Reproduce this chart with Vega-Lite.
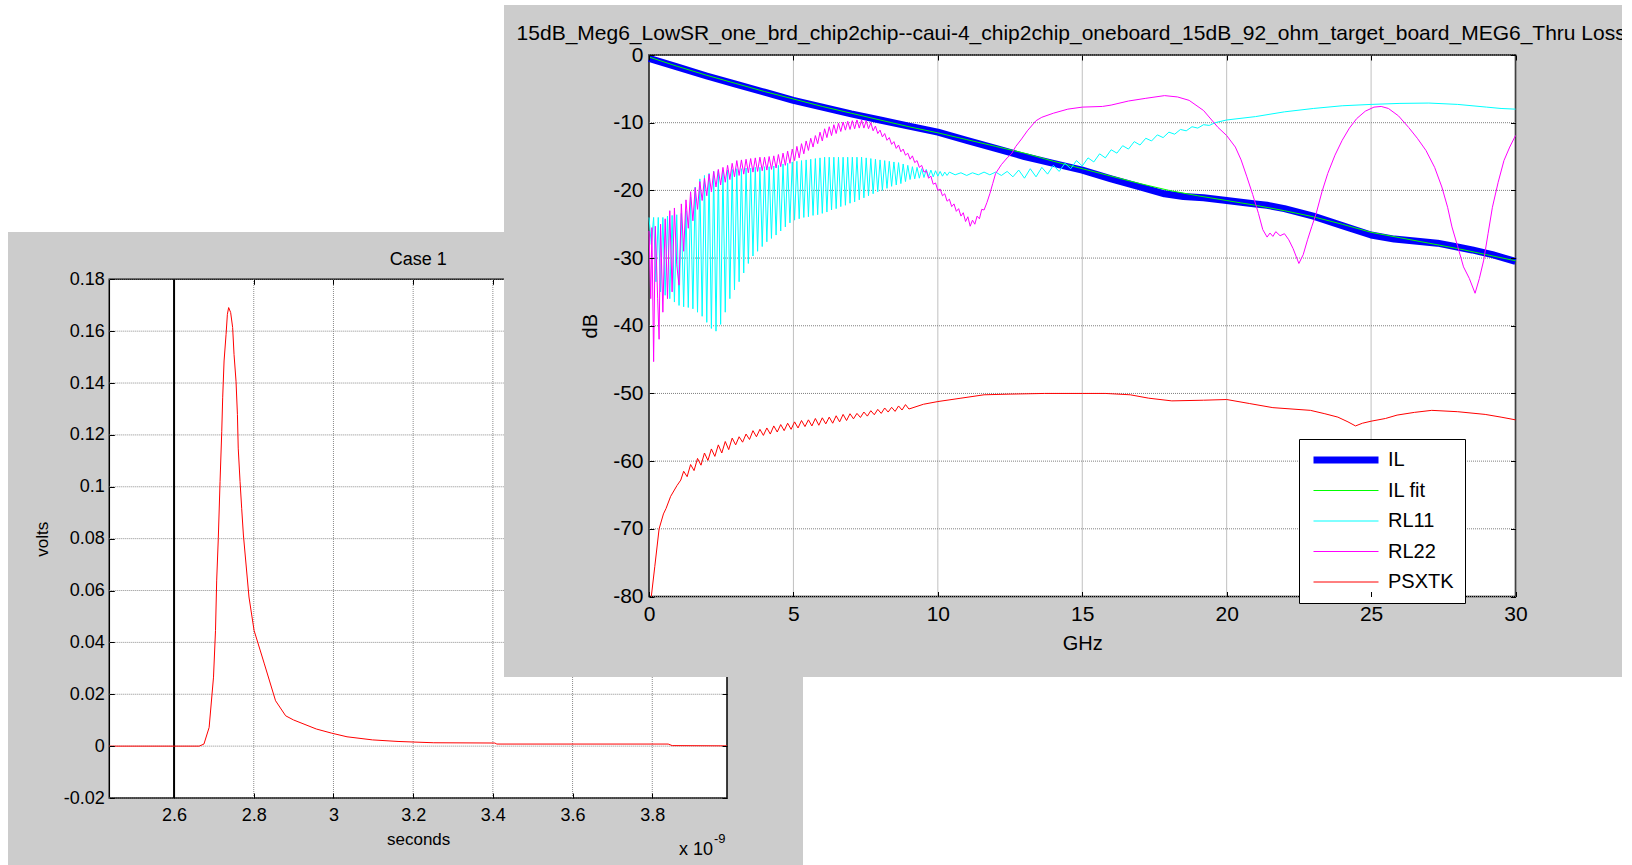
{
  "$schema": "https://vega.github.io/schema/vega-lite/v6.json",
  "width": 1622,
  "height": 865,
  "autosize": {"type": "none"},
  "padding": 0,
  "background": "white",
  "config": {
    "view": {"stroke": null},
    "axis": {"labelFont": "Liberation Sans", "titleFont": "Liberation Sans", "labelColor": "black", "titleColor": "black", "titleFontWeight": "normal", "ticks": true, "tickColor": "black", "tickWidth": 1, "domain": false, "grid": false, "labelFlush": false, "labelOverlap": false},
    "text": {"font": "Liberation Sans", "color": "black"}
  },
  "resolve": {"scale": {"x": "independent", "y": "independent", "color": "independent", "strokeWidth": "independent"}},
  "datasets": {
    "pulse": [
      {"t": 2.4375, "v": 0}, {"t": 2.6, "v": 0}, {"t": 2.663, "v": 0}, {"t": 2.675, "v": 0.0008}, {"t": 2.688, "v": 0.0072},
      {"t": 2.699, "v": 0.0266}, {"t": 2.704, "v": 0.0446}, {"t": 2.707, "v": 0.064}, {"t": 2.711, "v": 0.08},
      {"t": 2.7154, "v": 0.102}, {"t": 2.7197, "v": 0.1214}, {"t": 2.722, "v": 0.1343}, {"t": 2.7255, "v": 0.1485},
      {"t": 2.7305, "v": 0.1588}, {"t": 2.7338, "v": 0.1665}, {"t": 2.737, "v": 0.1691}, {"t": 2.742, "v": 0.1672},
      {"t": 2.747, "v": 0.1614}, {"t": 2.7505, "v": 0.151}, {"t": 2.7555, "v": 0.1407}, {"t": 2.759, "v": 0.1278},
      {"t": 2.761, "v": 0.1149}, {"t": 2.7656, "v": 0.102}, {"t": 2.7697, "v": 0.0917}, {"t": 2.774, "v": 0.0814},
      {"t": 2.788, "v": 0.0575}, {"t": 2.8008, "v": 0.0446}, {"t": 2.8266, "v": 0.0317}, {"t": 2.8547, "v": 0.0175},
      {"t": 2.88, "v": 0.0117}, {"t": 2.8996, "v": 0.0101}, {"t": 2.957, "v": 0.0066}, {"t": 2.9955, "v": 0.005},
      {"t": 3.034, "v": 0.0036}, {"t": 3.098, "v": 0.0024}, {"t": 3.162, "v": 0.0018}, {"t": 3.2517, "v": 0.0013},
      {"t": 3.405, "v": 0.0012}, {"t": 3.41, "v": 0.0008}, {"t": 3.84, "v": 0.0008}, {"t": 3.85, "v": 0.0002}, {"t": 3.9875, "v": 0.0001}
    ],
    "lgx": [{"t": 2.6}, {"t": 2.8}, {"t": 3}, {"t": 3.2}, {"t": 3.4}, {"t": 3.6}, {"t": 3.8}],
    "lgy": [{"v": -0.02}, {"v": 0}, {"v": 0.02}, {"v": 0.04}, {"v": 0.06}, {"v": 0.08}, {"v": 0.1}, {"v": 0.12}, {"v": 0.14}, {"v": 0.16}, {"v": 0.18}],
    "rgx": [{"f": 0}, {"f": 5}, {"f": 10}, {"f": 15}, {"f": 20}, {"f": 25}, {"f": 30}],
    "rgy": [{"db": 0}, {"db": -10}, {"db": -20}, {"db": -30}, {"db": -40}, {"db": -50}, {"db": -60}, {"db": -70}, {"db": -80}],
    "rf": [
      {"s": "IL", "f": 0, "db": -0.5}, {"s": "IL", "f": 1, "db": -1.8}, {"s": "IL", "f": 2, "db": -3.1}, {"s": "IL", "f": 3, "db": -4.3},
      {"s": "IL", "f": 4, "db": -5.5}, {"s": "IL", "f": 5, "db": -6.7}, {"s": "IL", "f": 6, "db": -7.7}, {"s": "IL", "f": 7, "db": -8.7},
      {"s": "IL", "f": 8, "db": -9.6}, {"s": "IL", "f": 9, "db": -10.5}, {"s": "IL", "f": 10, "db": -11.4}, {"s": "IL", "f": 11, "db": -12.6},
      {"s": "IL", "f": 12, "db": -13.8}, {"s": "IL", "f": 13, "db": -15.0}, {"s": "IL", "f": 13.6, "db": -15.6}, {"s": "IL", "f": 14, "db": -16.0},
      {"s": "IL", "f": 15, "db": -17.0}, {"s": "IL", "f": 16, "db": -18.3}, {"s": "IL", "f": 17, "db": -19.5}, {"s": "IL", "f": 17.85, "db": -20.5},
      {"s": "IL", "f": 18.5, "db": -20.9}, {"s": "IL", "f": 19.2, "db": -21.1}, {"s": "IL", "f": 20, "db": -21.5}, {"s": "IL", "f": 21, "db": -22.0},
      {"s": "IL", "f": 21.4, "db": -22.2}, {"s": "IL", "f": 22, "db": -22.7}, {"s": "IL", "f": 23, "db": -23.8}, {"s": "IL", "f": 24, "db": -25.2},
      {"s": "IL", "f": 25, "db": -26.6}, {"s": "IL", "f": 25.8, "db": -27.2}, {"s": "IL", "f": 26.6, "db": -27.5}, {"s": "IL", "f": 27.3, "db": -27.8},
      {"s": "IL", "f": 27.9, "db": -28.3}, {"s": "IL", "f": 28.5, "db": -28.8}, {"s": "IL", "f": 29.2, "db": -29.5}, {"s": "IL", "f": 30, "db": -30.5},

      {"s": "IL fit", "f": 0, "db": -0.3}, {"s": "IL fit", "f": 1, "db": -1.7}, {"s": "IL fit", "f": 2, "db": -3.0}, {"s": "IL fit", "f": 3, "db": -4.2},
      {"s": "IL fit", "f": 4, "db": -5.4}, {"s": "IL fit", "f": 5, "db": -6.5}, {"s": "IL fit", "f": 6, "db": -7.6}, {"s": "IL fit", "f": 7, "db": -8.6},
      {"s": "IL fit", "f": 8, "db": -9.6}, {"s": "IL fit", "f": 9, "db": -10.6}, {"s": "IL fit", "f": 10, "db": -11.5}, {"s": "IL fit", "f": 11, "db": -12.5},
      {"s": "IL fit", "f": 12, "db": -13.5}, {"s": "IL fit", "f": 13, "db": -14.5}, {"s": "IL fit", "f": 14, "db": -15.7}, {"s": "IL fit", "f": 15, "db": -16.8},
      {"s": "IL fit", "f": 16, "db": -17.9}, {"s": "IL fit", "f": 17, "db": -19.0}, {"s": "IL fit", "f": 18, "db": -20.0}, {"s": "IL fit", "f": 19, "db": -20.8},
      {"s": "IL fit", "f": 20, "db": -21.5}, {"s": "IL fit", "f": 21, "db": -22.2}, {"s": "IL fit", "f": 22, "db": -23.0}, {"s": "IL fit", "f": 23, "db": -23.9},
      {"s": "IL fit", "f": 24, "db": -25.0}, {"s": "IL fit", "f": 25, "db": -26.2}, {"s": "IL fit", "f": 26, "db": -27.0}, {"s": "IL fit", "f": 27, "db": -27.8},
      {"s": "IL fit", "f": 28, "db": -28.6}, {"s": "IL fit", "f": 29, "db": -29.5}, {"s": "IL fit", "f": 30, "db": -30.4},

      {"s": "RL11", "f": 0, "db": -24}, {"s": "RL11", "f": 0.08, "db": -28}, {"s": "RL11", "f": 0.16, "db": -24}, {"s": "RL11", "f": 0.24, "db": -33.5},
      {"s": "RL11", "f": 0.32, "db": -24}, {"s": "RL11", "f": 0.4, "db": -35}, {"s": "RL11", "f": 0.48, "db": -24}, {"s": "RL11", "f": 0.56, "db": -35.5},
      {"s": "RL11", "f": 0.64, "db": -23.8}, {"s": "RL11", "f": 0.72, "db": -36}, {"s": "RL11", "f": 0.8, "db": -23.7}, {"s": "RL11", "f": 0.88, "db": -36.5},
      {"s": "RL11", "f": 0.96, "db": -23.6}, {"s": "RL11", "f": 1.04, "db": -37}, {"s": "RL11", "f": 1.12, "db": -23.4}, {"s": "RL11", "f": 1.2, "db": -37.2},
      {"s": "RL11", "f": 1.28, "db": -23}, {"s": "RL11", "f": 1.36, "db": -37.3}, {"s": "RL11", "f": 1.44, "db": -21}, {"s": "RL11", "f": 1.52, "db": -37.5},
      {"s": "RL11", "f": 1.6, "db": -19.5}, {"s": "RL11", "f": 1.68, "db": -38}, {"s": "RL11", "f": 1.76, "db": -18.3}, {"s": "RL11", "f": 1.84, "db": -38.6},
      {"s": "RL11", "f": 1.92, "db": -17.8}, {"s": "RL11", "f": 2.0, "db": -39.5}, {"s": "RL11", "f": 2.08, "db": -17.5}, {"s": "RL11", "f": 2.16, "db": -40.4},
      {"s": "RL11", "f": 2.24, "db": -17.2}, {"s": "RL11", "f": 2.32, "db": -40.8}, {"s": "RL11", "f": 2.4, "db": -17.1}, {"s": "RL11", "f": 2.48, "db": -39.8},
      {"s": "RL11", "f": 2.56, "db": -17.0}, {"s": "RL11", "f": 2.64, "db": -38}, {"s": "RL11", "f": 2.72, "db": -17.0}, {"s": "RL11", "f": 2.8, "db": -36},
      {"s": "RL11", "f": 2.88, "db": -16.9}, {"s": "RL11", "f": 2.96, "db": -34.7}, {"s": "RL11", "f": 3.04, "db": -16.8}, {"s": "RL11", "f": 3.12, "db": -33.5},
      {"s": "RL11", "f": 3.2, "db": -16.8}, {"s": "RL11", "f": 3.28, "db": -32.2}, {"s": "RL11", "f": 3.36, "db": -16.7}, {"s": "RL11", "f": 3.44, "db": -30.8},
      {"s": "RL11", "f": 3.52, "db": -16.7}, {"s": "RL11", "f": 3.6, "db": -29.7}, {"s": "RL11", "f": 3.68, "db": -16.6}, {"s": "RL11", "f": 3.76, "db": -29},
      {"s": "RL11", "f": 3.84, "db": -16.6}, {"s": "RL11", "f": 3.92, "db": -28.3}, {"s": "RL11", "f": 4.0, "db": -16.5}, {"s": "RL11", "f": 4.08, "db": -27.6},
      {"s": "RL11", "f": 4.16, "db": -16.5}, {"s": "RL11", "f": 4.24, "db": -27.1}, {"s": "RL11", "f": 4.32, "db": -16.4}, {"s": "RL11", "f": 4.4, "db": -26.6},
      {"s": "RL11", "f": 4.48, "db": -16.3}, {"s": "RL11", "f": 4.56, "db": -26}, {"s": "RL11", "f": 4.64, "db": -16.1}, {"s": "RL11", "f": 4.72, "db": -25.4},
      {"s": "RL11", "f": 4.8, "db": -16.0}, {"s": "RL11", "f": 4.88, "db": -24.8}, {"s": "RL11", "f": 4.96, "db": -15.8}, {"s": "RL11", "f": 5.04, "db": -24.4},
      {"s": "RL11", "f": 5.12, "db": -15.7}, {"s": "RL11", "f": 5.2, "db": -24.2}, {"s": "RL11", "f": 5.28, "db": -15.6}, {"s": "RL11", "f": 5.36, "db": -24},
      {"s": "RL11", "f": 5.44, "db": -15.5}, {"s": "RL11", "f": 5.52, "db": -23.9}, {"s": "RL11", "f": 5.6, "db": -15.4}, {"s": "RL11", "f": 5.68, "db": -23.7},
      {"s": "RL11", "f": 5.76, "db": -15.3}, {"s": "RL11", "f": 5.84, "db": -23.6}, {"s": "RL11", "f": 5.92, "db": -15.2}, {"s": "RL11", "f": 6.0, "db": -23.4},
      {"s": "RL11", "f": 6.08, "db": -15.1}, {"s": "RL11", "f": 6.16, "db": -23.2}, {"s": "RL11", "f": 6.24, "db": -15.1}, {"s": "RL11", "f": 6.32, "db": -22.9},
      {"s": "RL11", "f": 6.4, "db": -15.1}, {"s": "RL11", "f": 6.48, "db": -22.7}, {"s": "RL11", "f": 6.56, "db": -15.1}, {"s": "RL11", "f": 6.64, "db": -22.4},
      {"s": "RL11", "f": 6.72, "db": -15.1}, {"s": "RL11", "f": 6.8, "db": -22.2}, {"s": "RL11", "f": 6.88, "db": -15.1}, {"s": "RL11", "f": 6.96, "db": -21.9},
      {"s": "RL11", "f": 7.04, "db": -15.1}, {"s": "RL11", "f": 7.12, "db": -21.7}, {"s": "RL11", "f": 7.2, "db": -15.1}, {"s": "RL11", "f": 7.28, "db": -21.4},
      {"s": "RL11", "f": 7.36, "db": -15.1}, {"s": "RL11", "f": 7.44, "db": -21.1}, {"s": "RL11", "f": 7.52, "db": -15.2}, {"s": "RL11", "f": 7.6, "db": -20.8},
      {"s": "RL11", "f": 7.68, "db": -15.3}, {"s": "RL11", "f": 7.76, "db": -20.5}, {"s": "RL11", "f": 7.84, "db": -15.4}, {"s": "RL11", "f": 7.92, "db": -20.2},
      {"s": "RL11", "f": 8.0, "db": -15.5}, {"s": "RL11", "f": 8.08, "db": -20}, {"s": "RL11", "f": 8.16, "db": -15.6}, {"s": "RL11", "f": 8.24, "db": -19.7},
      {"s": "RL11", "f": 8.32, "db": -15.7}, {"s": "RL11", "f": 8.4, "db": -19.4}, {"s": "RL11", "f": 8.48, "db": -15.8}, {"s": "RL11", "f": 8.56, "db": -19.2},
      {"s": "RL11", "f": 8.64, "db": -15.9}, {"s": "RL11", "f": 8.72, "db": -19}, {"s": "RL11", "f": 8.8, "db": -16.1}, {"s": "RL11", "f": 8.88, "db": -18.7},
      {"s": "RL11", "f": 8.96, "db": -16.3}, {"s": "RL11", "f": 9.04, "db": -18.4}, {"s": "RL11", "f": 9.12, "db": -16.5}, {"s": "RL11", "f": 9.2, "db": -18.3},
      {"s": "RL11", "f": 9.28, "db": -16.6}, {"s": "RL11", "f": 9.36, "db": -18.2}, {"s": "RL11", "f": 9.44, "db": -16.8}, {"s": "RL11", "f": 9.52, "db": -18.1},
      {"s": "RL11", "f": 9.6, "db": -16.9}, {"s": "RL11", "f": 9.68, "db": -18.0}, {"s": "RL11", "f": 9.76, "db": -17.0}, {"s": "RL11", "f": 9.84, "db": -18.0},
      {"s": "RL11", "f": 9.92, "db": -17.1}, {"s": "RL11", "f": 10.0, "db": -17.9}, {"s": "RL11", "f": 10.08, "db": -17.2}, {"s": "RL11", "f": 10.16, "db": -17.9},
      {"s": "RL11", "f": 10.24, "db": -17.3}, {"s": "RL11", "f": 10.32, "db": -17.8}, {"s": "RL11", "f": 10.4, "db": -17.3}, {"s": "RL11", "f": 10.6, "db": -17.7},
      {"s": "RL11", "f": 10.8, "db": -17.4}, {"s": "RL11", "f": 11.0, "db": -17.8}, {"s": "RL11", "f": 11.2, "db": -17.4}, {"s": "RL11", "f": 11.4, "db": -17.7},
      {"s": "RL11", "f": 11.6, "db": -17.3}, {"s": "RL11", "f": 11.8, "db": -17.7}, {"s": "RL11", "f": 12.0, "db": -17.3}, {"s": "RL11", "f": 12.2, "db": -17.8},
      {"s": "RL11", "f": 12.4, "db": -17.2}, {"s": "RL11", "f": 12.6, "db": -18.0}, {"s": "RL11", "f": 12.8, "db": -17.0}, {"s": "RL11", "f": 13.0, "db": -18.2},
      {"s": "RL11", "f": 13.2, "db": -16.8}, {"s": "RL11", "f": 13.4, "db": -18.0}, {"s": "RL11", "f": 13.6, "db": -16.6}, {"s": "RL11", "f": 13.8, "db": -17.6},
      {"s": "RL11", "f": 14.0, "db": -16.3}, {"s": "RL11", "f": 14.2, "db": -17.2}, {"s": "RL11", "f": 14.4, "db": -16.0}, {"s": "RL11", "f": 14.6, "db": -16.8},
      {"s": "RL11", "f": 14.8, "db": -15.6}, {"s": "RL11", "f": 15.0, "db": -16.4}, {"s": "RL11", "f": 15.2, "db": -15.2}, {"s": "RL11", "f": 15.4, "db": -15.8},
      {"s": "RL11", "f": 15.6, "db": -14.6}, {"s": "RL11", "f": 15.8, "db": -15.2}, {"s": "RL11", "f": 16.0, "db": -14.0}, {"s": "RL11", "f": 16.2, "db": -14.5},
      {"s": "RL11", "f": 16.4, "db": -13.4}, {"s": "RL11", "f": 16.6, "db": -13.9}, {"s": "RL11", "f": 16.8, "db": -12.8}, {"s": "RL11", "f": 17.0, "db": -13.3},
      {"s": "RL11", "f": 17.2, "db": -12.3}, {"s": "RL11", "f": 17.4, "db": -12.7}, {"s": "RL11", "f": 17.6, "db": -11.8}, {"s": "RL11", "f": 17.8, "db": -12.2},
      {"s": "RL11", "f": 18.0, "db": -11.4}, {"s": "RL11", "f": 18.2, "db": -11.7}, {"s": "RL11", "f": 18.4, "db": -11.0}, {"s": "RL11", "f": 18.6, "db": -11.2},
      {"s": "RL11", "f": 18.8, "db": -10.6}, {"s": "RL11", "f": 19.0, "db": -10.8}, {"s": "RL11", "f": 19.2, "db": -10.3}, {"s": "RL11", "f": 19.4, "db": -10.4},
      {"s": "RL11", "f": 19.6, "db": -10.0}, {"s": "RL11", "f": 20.0, "db": -9.6}, {"s": "RL11", "f": 21.0, "db": -9.1}, {"s": "RL11", "f": 22.0, "db": -8.4},
      {"s": "RL11", "f": 23.0, "db": -7.9}, {"s": "RL11", "f": 24.0, "db": -7.5}, {"s": "RL11", "f": 25.0, "db": -7.3}, {"s": "RL11", "f": 26.0, "db": -7.15},
      {"s": "RL11", "f": 27.0, "db": -7.1}, {"s": "RL11", "f": 28.0, "db": -7.3}, {"s": "RL11", "f": 29.0, "db": -7.7}, {"s": "RL11", "f": 29.5, "db": -7.9},
      {"s": "RL11", "f": 30.0, "db": -8.0},

      {"s": "RL22", "f": 0, "db": -26}, {"s": "RL22", "f": 0.06, "db": -36}, {"s": "RL22", "f": 0.1, "db": -25.5}, {"s": "RL22", "f": 0.16, "db": -45.3},
      {"s": "RL22", "f": 0.22, "db": -25.3}, {"s": "RL22", "f": 0.3, "db": -36}, {"s": "RL22", "f": 0.35, "db": -42}, {"s": "RL22", "f": 0.4, "db": -25},
      {"s": "RL22", "f": 0.48, "db": -38}, {"s": "RL22", "f": 0.56, "db": -24.2}, {"s": "RL22", "f": 0.64, "db": -36}, {"s": "RL22", "f": 0.72, "db": -23},
      {"s": "RL22", "f": 0.8, "db": -35}, {"s": "RL22", "f": 0.88, "db": -22.6}, {"s": "RL22", "f": 0.96, "db": -31}, {"s": "RL22", "f": 1.04, "db": -34},
      {"s": "RL22", "f": 1.12, "db": -22}, {"s": "RL22", "f": 1.2, "db": -29}, {"s": "RL22", "f": 1.28, "db": -21.4}, {"s": "RL22", "f": 1.36, "db": -25.6},
      {"s": "RL22", "f": 1.44, "db": -20.2}, {"s": "RL22", "f": 1.52, "db": -24.5}, {"s": "RL22", "f": 1.6, "db": -19.6}, {"s": "RL22", "f": 1.68, "db": -22.8},
      {"s": "RL22", "f": 1.76, "db": -18.7}, {"s": "RL22", "f": 1.84, "db": -21.5}, {"s": "RL22", "f": 1.92, "db": -18.2}, {"s": "RL22", "f": 2.0, "db": -20.8},
      {"s": "RL22", "f": 2.08, "db": -17.6}, {"s": "RL22", "f": 2.16, "db": -20.2}, {"s": "RL22", "f": 2.24, "db": -17.2}, {"s": "RL22", "f": 2.32, "db": -19.5},
      {"s": "RL22", "f": 2.4, "db": -16.9}, {"s": "RL22", "f": 2.48, "db": -19.2}, {"s": "RL22", "f": 2.56, "db": -16.6}, {"s": "RL22", "f": 2.64, "db": -18.8},
      {"s": "RL22", "f": 2.72, "db": -16.3}, {"s": "RL22", "f": 2.8, "db": -18.4}, {"s": "RL22", "f": 2.88, "db": -16.0}, {"s": "RL22", "f": 2.96, "db": -18.0},
      {"s": "RL22", "f": 3.04, "db": -15.6}, {"s": "RL22", "f": 3.12, "db": -17.8}, {"s": "RL22", "f": 3.2, "db": -15.5}, {"s": "RL22", "f": 3.28, "db": -17.6},
      {"s": "RL22", "f": 3.36, "db": -15.4}, {"s": "RL22", "f": 3.44, "db": -17.4}, {"s": "RL22", "f": 3.52, "db": -15.3}, {"s": "RL22", "f": 3.6, "db": -17.3},
      {"s": "RL22", "f": 3.68, "db": -15.2}, {"s": "RL22", "f": 3.76, "db": -17.2}, {"s": "RL22", "f": 3.84, "db": -15.1}, {"s": "RL22", "f": 3.92, "db": -17.1},
      {"s": "RL22", "f": 4.0, "db": -15.1}, {"s": "RL22", "f": 4.08, "db": -17.0}, {"s": "RL22", "f": 4.16, "db": -15.0}, {"s": "RL22", "f": 4.24, "db": -16.9},
      {"s": "RL22", "f": 4.32, "db": -14.9}, {"s": "RL22", "f": 4.4, "db": -16.7}, {"s": "RL22", "f": 4.48, "db": -14.7}, {"s": "RL22", "f": 4.56, "db": -16.5},
      {"s": "RL22", "f": 4.64, "db": -14.5}, {"s": "RL22", "f": 4.72, "db": -16.3}, {"s": "RL22", "f": 4.8, "db": -14.2}, {"s": "RL22", "f": 4.88, "db": -16.0},
      {"s": "RL22", "f": 4.96, "db": -13.9}, {"s": "RL22", "f": 5.04, "db": -15.6}, {"s": "RL22", "f": 5.12, "db": -13.5}, {"s": "RL22", "f": 5.2, "db": -15.2},
      {"s": "RL22", "f": 5.28, "db": -13.1}, {"s": "RL22", "f": 5.36, "db": -14.6}, {"s": "RL22", "f": 5.44, "db": -12.7}, {"s": "RL22", "f": 5.52, "db": -14.1},
      {"s": "RL22", "f": 5.6, "db": -12.3}, {"s": "RL22", "f": 5.68, "db": -13.6}, {"s": "RL22", "f": 5.76, "db": -11.9}, {"s": "RL22", "f": 5.84, "db": -13.1},
      {"s": "RL22", "f": 5.92, "db": -11.4}, {"s": "RL22", "f": 6.0, "db": -12.7}, {"s": "RL22", "f": 6.08, "db": -10.9}, {"s": "RL22", "f": 6.16, "db": -12.2},
      {"s": "RL22", "f": 6.24, "db": -10.6}, {"s": "RL22", "f": 6.32, "db": -11.9}, {"s": "RL22", "f": 6.4, "db": -10.3}, {"s": "RL22", "f": 6.48, "db": -11.6},
      {"s": "RL22", "f": 6.56, "db": -10.1}, {"s": "RL22", "f": 6.64, "db": -11.3}, {"s": "RL22", "f": 6.72, "db": -9.9}, {"s": "RL22", "f": 6.8, "db": -11.1},
      {"s": "RL22", "f": 6.88, "db": -9.8}, {"s": "RL22", "f": 6.96, "db": -11.0}, {"s": "RL22", "f": 7.04, "db": -9.7}, {"s": "RL22", "f": 7.12, "db": -10.9},
      {"s": "RL22", "f": 7.2, "db": -9.6}, {"s": "RL22", "f": 7.28, "db": -10.8}, {"s": "RL22", "f": 7.36, "db": -9.6}, {"s": "RL22", "f": 7.44, "db": -10.8},
      {"s": "RL22", "f": 7.52, "db": -9.7}, {"s": "RL22", "f": 7.6, "db": -10.9}, {"s": "RL22", "f": 7.68, "db": -10.0}, {"s": "RL22", "f": 7.76, "db": -11.2},
      {"s": "RL22", "f": 7.84, "db": -10.5}, {"s": "RL22", "f": 7.92, "db": -11.6}, {"s": "RL22", "f": 8.0, "db": -11.1}, {"s": "RL22", "f": 8.08, "db": -12.1},
      {"s": "RL22", "f": 8.16, "db": -11.6}, {"s": "RL22", "f": 8.24, "db": -12.6}, {"s": "RL22", "f": 8.32, "db": -12.2}, {"s": "RL22", "f": 8.4, "db": -13.2},
      {"s": "RL22", "f": 8.48, "db": -12.8}, {"s": "RL22", "f": 8.56, "db": -13.8}, {"s": "RL22", "f": 8.64, "db": -13.3}, {"s": "RL22", "f": 8.72, "db": -14.3},
      {"s": "RL22", "f": 8.8, "db": -13.9}, {"s": "RL22", "f": 8.88, "db": -14.8}, {"s": "RL22", "f": 8.96, "db": -14.5}, {"s": "RL22", "f": 9.04, "db": -15.4},
      {"s": "RL22", "f": 9.12, "db": -14.9}, {"s": "RL22", "f": 9.2, "db": -15.9}, {"s": "RL22", "f": 9.28, "db": -15.6}, {"s": "RL22", "f": 9.36, "db": -16.6},
      {"s": "RL22", "f": 9.44, "db": -16.3}, {"s": "RL22", "f": 9.52, "db": -17.3}, {"s": "RL22", "f": 9.6, "db": -17.1}, {"s": "RL22", "f": 9.68, "db": -18.2},
      {"s": "RL22", "f": 9.76, "db": -17.9}, {"s": "RL22", "f": 9.84, "db": -19.1}, {"s": "RL22", "f": 9.92, "db": -18.9}, {"s": "RL22", "f": 10.0, "db": -20.0},
      {"s": "RL22", "f": 10.08, "db": -19.8}, {"s": "RL22", "f": 10.16, "db": -20.8}, {"s": "RL22", "f": 10.24, "db": -20.5}, {"s": "RL22", "f": 10.32, "db": -21.6},
      {"s": "RL22", "f": 10.4, "db": -21.3}, {"s": "RL22", "f": 10.48, "db": -22.4}, {"s": "RL22", "f": 10.56, "db": -22.0}, {"s": "RL22", "f": 10.64, "db": -23.1},
      {"s": "RL22", "f": 10.72, "db": -22.7}, {"s": "RL22", "f": 10.8, "db": -23.8}, {"s": "RL22", "f": 10.88, "db": -23.3}, {"s": "RL22", "f": 10.96, "db": -24.6},
      {"s": "RL22", "f": 11.04, "db": -23.9}, {"s": "RL22", "f": 11.12, "db": -25.3}, {"s": "RL22", "f": 11.2, "db": -24.4}, {"s": "RL22", "f": 11.28, "db": -25.0},
      {"s": "RL22", "f": 11.36, "db": -23.8}, {"s": "RL22", "f": 11.44, "db": -24.2}, {"s": "RL22", "f": 11.52, "db": -22.8}, {"s": "RL22", "f": 11.6, "db": -22.9},
      {"s": "RL22", "f": 11.7, "db": -21.8}, {"s": "RL22", "f": 11.8, "db": -20.5}, {"s": "RL22", "f": 11.9, "db": -19.0}, {"s": "RL22", "f": 12.0, "db": -17.5},
      {"s": "RL22", "f": 12.2, "db": -16.2}, {"s": "RL22", "f": 12.4, "db": -15.2}, {"s": "RL22", "f": 12.55, "db": -14.6}, {"s": "RL22", "f": 12.7, "db": -13.5},
      {"s": "RL22", "f": 12.9, "db": -12.4}, {"s": "RL22", "f": 13.1, "db": -11.2}, {"s": "RL22", "f": 13.4, "db": -9.7}, {"s": "RL22", "f": 13.6, "db": -9.2},
      {"s": "RL22", "f": 14.0, "db": -8.6}, {"s": "RL22", "f": 14.5, "db": -8.0}, {"s": "RL22", "f": 15.0, "db": -7.7}, {"s": "RL22", "f": 15.7, "db": -7.6},
      {"s": "RL22", "f": 16.0, "db": -7.4}, {"s": "RL22", "f": 16.6, "db": -6.8}, {"s": "RL22", "f": 17.2, "db": -6.4}, {"s": "RL22", "f": 17.85, "db": -6.0},
      {"s": "RL22", "f": 18.3, "db": -6.2}, {"s": "RL22", "f": 18.7, "db": -6.7}, {"s": "RL22", "f": 19.2, "db": -8.2}, {"s": "RL22", "f": 19.7, "db": -10.7},
      {"s": "RL22", "f": 20.0, "db": -11.9}, {"s": "RL22", "f": 20.3, "db": -13.6}, {"s": "RL22", "f": 20.5, "db": -15.5}, {"s": "RL22", "f": 20.7, "db": -18.0},
      {"s": "RL22", "f": 20.9, "db": -20.6}, {"s": "RL22", "f": 21.1, "db": -23.4}, {"s": "RL22", "f": 21.25, "db": -25.8}, {"s": "RL22", "f": 21.4, "db": -26.9},
      {"s": "RL22", "f": 21.5, "db": -26.3}, {"s": "RL22", "f": 21.6, "db": -26.8}, {"s": "RL22", "f": 21.7, "db": -26.1}, {"s": "RL22", "f": 21.85, "db": -26.7},
      {"s": "RL22", "f": 22.0, "db": -26.4}, {"s": "RL22", "f": 22.15, "db": -27.3}, {"s": "RL22", "f": 22.3, "db": -28.6}, {"s": "RL22", "f": 22.5, "db": -30.8},
      {"s": "RL22", "f": 22.65, "db": -29.5}, {"s": "RL22", "f": 22.8, "db": -27.3}, {"s": "RL22", "f": 22.95, "db": -25.3}, {"s": "RL22", "f": 23.1, "db": -23.4},
      {"s": "RL22", "f": 23.3, "db": -20.2}, {"s": "RL22", "f": 23.5, "db": -17.5}, {"s": "RL22", "f": 23.75, "db": -14.8}, {"s": "RL22", "f": 24.0, "db": -12.6},
      {"s": "RL22", "f": 24.25, "db": -10.8}, {"s": "RL22", "f": 24.5, "db": -9.4}, {"s": "RL22", "f": 24.8, "db": -8.3}, {"s": "RL22", "f": 25.1, "db": -7.7},
      {"s": "RL22", "f": 25.35, "db": -7.6}, {"s": "RL22", "f": 25.6, "db": -7.9}, {"s": "RL22", "f": 25.95, "db": -9.0}, {"s": "RL22", "f": 26.3, "db": -10.7},
      {"s": "RL22", "f": 26.6, "db": -12.3}, {"s": "RL22", "f": 26.9, "db": -14.1}, {"s": "RL22", "f": 27.2, "db": -16.6}, {"s": "RL22", "f": 27.45, "db": -19.5},
      {"s": "RL22", "f": 27.65, "db": -22.5}, {"s": "RL22", "f": 27.8, "db": -25.4}, {"s": "RL22", "f": 28.0, "db": -28.3}, {"s": "RL22", "f": 28.2, "db": -31.3},
      {"s": "RL22", "f": 28.4, "db": -33.0}, {"s": "RL22", "f": 28.6, "db": -35.2}, {"s": "RL22", "f": 28.75, "db": -33.0}, {"s": "RL22", "f": 28.9, "db": -30.3},
      {"s": "RL22", "f": 29.05, "db": -26.4}, {"s": "RL22", "f": 29.2, "db": -22.5}, {"s": "RL22", "f": 29.4, "db": -18.8}, {"s": "RL22", "f": 29.6, "db": -15.6},
      {"s": "RL22", "f": 29.8, "db": -13.6}, {"s": "RL22", "f": 30.0, "db": -11.9},

      {"s": "PSXTK", "f": 0.08, "db": -80}, {"s": "PSXTK", "f": 0.2, "db": -75.6}, {"s": "PSXTK", "f": 0.35, "db": -70}, {"s": "PSXTK", "f": 0.5, "db": -67.8},
      {"s": "PSXTK", "f": 0.59, "db": -67}, {"s": "PSXTK", "f": 0.75, "db": -65.2}, {"s": "PSXTK", "f": 0.97, "db": -63.6}, {"s": "PSXTK", "f": 1.1, "db": -62.8},
      {"s": "PSXTK", "f": 1.2, "db": -61.5}, {"s": "PSXTK", "f": 1.32, "db": -62.3}, {"s": "PSXTK", "f": 1.44, "db": -60.5}, {"s": "PSXTK", "f": 1.56, "db": -61.4},
      {"s": "PSXTK", "f": 1.68, "db": -59.6}, {"s": "PSXTK", "f": 1.8, "db": -60.6}, {"s": "PSXTK", "f": 1.92, "db": -58.8}, {"s": "PSXTK", "f": 2.04, "db": -59.9},
      {"s": "PSXTK", "f": 2.16, "db": -58.2}, {"s": "PSXTK", "f": 2.28, "db": -59.3}, {"s": "PSXTK", "f": 2.4, "db": -57.6}, {"s": "PSXTK", "f": 2.52, "db": -58.8},
      {"s": "PSXTK", "f": 2.64, "db": -57.1}, {"s": "PSXTK", "f": 2.76, "db": -58.3}, {"s": "PSXTK", "f": 2.88, "db": -56.6}, {"s": "PSXTK", "f": 3.0, "db": -57.6},
      {"s": "PSXTK", "f": 3.12, "db": -56.4}, {"s": "PSXTK", "f": 3.24, "db": -57.2}, {"s": "PSXTK", "f": 3.36, "db": -56.0}, {"s": "PSXTK", "f": 3.48, "db": -56.8},
      {"s": "PSXTK", "f": 3.6, "db": -55.5}, {"s": "PSXTK", "f": 3.72, "db": -56.4}, {"s": "PSXTK", "f": 3.84, "db": -55.3}, {"s": "PSXTK", "f": 3.96, "db": -56.2},
      {"s": "PSXTK", "f": 4.08, "db": -55.1}, {"s": "PSXTK", "f": 4.2, "db": -56.0}, {"s": "PSXTK", "f": 4.32, "db": -54.8}, {"s": "PSXTK", "f": 4.44, "db": -55.7},
      {"s": "PSXTK", "f": 4.56, "db": -54.6}, {"s": "PSXTK", "f": 4.68, "db": -55.5}, {"s": "PSXTK", "f": 4.8, "db": -54.4}, {"s": "PSXTK", "f": 4.92, "db": -55.3},
      {"s": "PSXTK", "f": 5.04, "db": -54.2}, {"s": "PSXTK", "f": 5.16, "db": -55.1}, {"s": "PSXTK", "f": 5.28, "db": -54.0}, {"s": "PSXTK", "f": 5.4, "db": -54.9},
      {"s": "PSXTK", "f": 5.52, "db": -53.9}, {"s": "PSXTK", "f": 5.64, "db": -54.8}, {"s": "PSXTK", "f": 5.76, "db": -53.7}, {"s": "PSXTK", "f": 5.88, "db": -54.7},
      {"s": "PSXTK", "f": 6.0, "db": -53.6}, {"s": "PSXTK", "f": 6.12, "db": -54.5}, {"s": "PSXTK", "f": 6.24, "db": -53.5}, {"s": "PSXTK", "f": 6.36, "db": -54.4},
      {"s": "PSXTK", "f": 6.48, "db": -53.3}, {"s": "PSXTK", "f": 6.6, "db": -54.2}, {"s": "PSXTK", "f": 6.72, "db": -53.1}, {"s": "PSXTK", "f": 6.84, "db": -54.0},
      {"s": "PSXTK", "f": 6.96, "db": -53.0}, {"s": "PSXTK", "f": 7.08, "db": -53.75}, {"s": "PSXTK", "f": 7.2, "db": -52.95}, {"s": "PSXTK", "f": 7.32, "db": -53.55},
      {"s": "PSXTK", "f": 7.44, "db": -52.75}, {"s": "PSXTK", "f": 7.56, "db": -53.35}, {"s": "PSXTK", "f": 7.68, "db": -52.55}, {"s": "PSXTK", "f": 7.8, "db": -53.15},
      {"s": "PSXTK", "f": 7.92, "db": -52.35}, {"s": "PSXTK", "f": 8.04, "db": -52.95}, {"s": "PSXTK", "f": 8.16, "db": -52.15}, {"s": "PSXTK", "f": 8.28, "db": -52.75},
      {"s": "PSXTK", "f": 8.4, "db": -52.05}, {"s": "PSXTK", "f": 8.52, "db": -52.65}, {"s": "PSXTK", "f": 8.64, "db": -51.85}, {"s": "PSXTK", "f": 8.76, "db": -52.45},
      {"s": "PSXTK", "f": 8.88, "db": -51.65}, {"s": "PSXTK", "f": 9.0, "db": -52.3}, {"s": "PSXTK", "f": 9.5, "db": -51.6}, {"s": "PSXTK", "f": 10.0, "db": -51.2},
      {"s": "PSXTK", "f": 10.8, "db": -50.7}, {"s": "PSXTK", "f": 11.6, "db": -50.2}, {"s": "PSXTK", "f": 12.5, "db": -50.1}, {"s": "PSXTK", "f": 13.7, "db": -50.0},
      {"s": "PSXTK", "f": 15.0, "db": -50.0}, {"s": "PSXTK", "f": 15.8, "db": -50.0}, {"s": "PSXTK", "f": 16.66, "db": -50.2}, {"s": "PSXTK", "f": 17.3, "db": -50.7},
      {"s": "PSXTK", "f": 18.1, "db": -51.1}, {"s": "PSXTK", "f": 19.2, "db": -51.0}, {"s": "PSXTK", "f": 20.0, "db": -50.9}, {"s": "PSXTK", "f": 20.8, "db": -51.5},
      {"s": "PSXTK", "f": 21.6, "db": -52.1}, {"s": "PSXTK", "f": 22.9, "db": -52.5}, {"s": "PSXTK", "f": 23.4, "db": -53.0}, {"s": "PSXTK", "f": 23.85, "db": -53.5},
      {"s": "PSXTK", "f": 24.2, "db": -54.2}, {"s": "PSXTK", "f": 24.46, "db": -54.8}, {"s": "PSXTK", "f": 24.7, "db": -54.4}, {"s": "PSXTK", "f": 25.0, "db": -54.1},
      {"s": "PSXTK", "f": 25.5, "db": -53.7}, {"s": "PSXTK", "f": 25.9, "db": -53.2}, {"s": "PSXTK", "f": 26.5, "db": -52.8}, {"s": "PSXTK", "f": 27.1, "db": -52.5},
      {"s": "PSXTK", "f": 28.0, "db": -52.7}, {"s": "PSXTK", "f": 28.95, "db": -53.1}, {"s": "PSXTK", "f": 29.5, "db": -53.5}, {"s": "PSXTK", "f": 30.0, "db": -53.9}
    ]
  },
  "layer": [
    {
      "data": {"values": [{}]},
      "mark": {"type": "rect", "fill": "#cccccc"},
      "encoding": {
        "x": {"datum": 0, "type": "quantitative", "scale": {"domain": [0, 1], "range": [8, 803], "nice": false, "zero": false}, "axis": null},
        "x2": {"datum": 1},
        "y": {"datum": 0, "type": "quantitative", "scale": {"domain": [0, 1], "range": [865, 232], "nice": false, "zero": false}, "axis": null},
        "y2": {"datum": 1}
      }
    },
    {
      "data": {"values": [{}]},
      "mark": {"type": "rect", "fill": "white", "stroke": "black", "strokeWidth": 1.5},
      "encoding": {
        "x": {"datum": 2.4375, "type": "quantitative", "scale": {"domain": [2.4375, 3.9875], "range": [109.3, 727], "nice": false, "zero": false},
          "axis": {"orient": "top", "offset": -279.3, "zindex": 1, "values": [2.6, 2.8, 3, 3.2, 3.4], "labels": false, "tickSize": -5, "title": null}},
        "x2": {"datum": 3.9875},
        "y": {"datum": -0.02, "type": "quantitative", "scale": {"domain": [-0.02, 0.18], "range": [798, 279.3], "nice": false, "zero": false},
          "axis": {"orient": "right", "offset": -895, "zindex": 1, "values": [-0.02, 0, 0.02], "labels": false, "tickSize": -5, "title": null}},
        "y2": {"datum": 0.18}
      }
    },
    {
      "data": {"name": "lgx"},
      "mark": {"type": "rule", "stroke": "#8c8c8c", "strokeWidth": 1, "strokeDash": [1, 1]},
      "encoding": {
        "x": {"field": "t", "type": "quantitative", "scale": {"domain": [2.4375, 3.9875], "range": [109.3, 727], "nice": false, "zero": false}, "axis": null},
        "y": {"datum": -0.02, "type": "quantitative", "scale": {"domain": [-0.02, 0.18], "range": [798, 279.3], "nice": false, "zero": false}, "axis": null},
        "y2": {"datum": 0.18}
      }
    },
    {
      "data": {"name": "lgy"},
      "mark": {"type": "rule", "stroke": "#8c8c8c", "strokeWidth": 1, "strokeDash": [1, 1]},
      "encoding": {
        "x": {"datum": 2.4375, "type": "quantitative", "scale": {"domain": [2.4375, 3.9875], "range": [109.3, 727], "nice": false, "zero": false}, "axis": null},
        "x2": {"datum": 3.9875},
        "y": {"field": "v", "type": "quantitative", "scale": {"domain": [-0.02, 0.18], "range": [798, 279.3], "nice": false, "zero": false}, "axis": null}
      }
    },
    {
      "data": {"values": [{}]},
      "mark": {"type": "rule", "stroke": "black", "strokeWidth": 2},
      "encoding": {
        "x": {"datum": 2.6, "type": "quantitative", "scale": {"domain": [2.4375, 3.9875], "range": [109.3, 727], "nice": false, "zero": false}, "axis": null},
        "y": {"datum": -0.02, "type": "quantitative", "scale": {"domain": [-0.02, 0.18], "range": [798, 279.3], "nice": false, "zero": false}, "axis": null},
        "y2": {"datum": 0.18}
      }
    },
    {
      "data": {"name": "pulse"},
      "mark": {"type": "line", "stroke": "#ff0000", "strokeWidth": 1, "clip": true},
      "encoding": {
        "x": {"field": "t", "type": "quantitative", "scale": {"domain": [2.4375, 3.9875], "range": [109.3, 727], "nice": false, "zero": false},
          "axis": {"orient": "bottom", "offset": -67, "zindex": 1, "values": [2.6, 2.8, 3, 3.2, 3.4, 3.6, 3.8], "labelExpr": "'' + datum.value", "labelFontSize": 18, "tickSize": -5, "labelPadding": 13, "title": "seconds", "titleFontSize": 17, "titlePadding": 7}},
        "y": {"field": "v", "type": "quantitative", "scale": {"domain": [-0.02, 0.18], "range": [798, 279.3], "nice": false, "zero": false},
          "axis": {"orient": "left", "offset": -109.3, "zindex": 1, "values": [-0.02, 0, 0.02, 0.04, 0.06, 0.08, 0.1, 0.12, 0.14, 0.16, 0.18], "labelExpr": "'' + datum.value", "labelFontSize": 18, "tickSize": -5, "labelPadding": 10, "title": "volts", "titleFontSize": 17, "titlePadding": 12}}
      }
    },
    {
      "data": {"values": [{}]},
      "mark": {"type": "text", "text": "Case 1", "fontSize": 18, "align": "center", "baseline": "alphabetic", "dy": -14},
      "encoding": {
        "x": {"datum": 3.2125, "type": "quantitative", "scale": {"domain": [2.4375, 3.9875], "range": [109.3, 727], "nice": false, "zero": false}, "axis": null},
        "y": {"datum": 0.18, "type": "quantitative", "scale": {"domain": [-0.02, 0.18], "range": [798, 279.3], "nice": false, "zero": false}, "axis": null}
      }
    },
    {
      "data": {"values": [{}]},
      "mark": {"type": "text", "text": "x 10", "fontSize": 18, "align": "right", "baseline": "alphabetic", "dx": -14, "dy": 57},
      "encoding": {
        "x": {"datum": 3.9875, "type": "quantitative", "scale": {"domain": [2.4375, 3.9875], "range": [109.3, 727], "nice": false, "zero": false}, "axis": null},
        "y": {"datum": -0.02, "type": "quantitative", "scale": {"domain": [-0.02, 0.18], "range": [798, 279.3], "nice": false, "zero": false}, "axis": null}
      }
    },
    {
      "data": {"values": [{}]},
      "mark": {"type": "text", "text": "-9", "fontSize": 13, "align": "left", "baseline": "alphabetic", "dx": -13, "dy": 45},
      "encoding": {
        "x": {"datum": 3.9875, "type": "quantitative", "scale": {"domain": [2.4375, 3.9875], "range": [109.3, 727], "nice": false, "zero": false}, "axis": null},
        "y": {"datum": -0.02, "type": "quantitative", "scale": {"domain": [-0.02, 0.18], "range": [798, 279.3], "nice": false, "zero": false}, "axis": null}
      }
    },
    {
      "data": {"values": [{}]},
      "mark": {"type": "rect", "fill": "#cccccc"},
      "encoding": {
        "x": {"datum": 0, "type": "quantitative", "scale": {"domain": [0, 1], "range": [504, 1622], "nice": false, "zero": false}, "axis": null},
        "x2": {"datum": 1},
        "y": {"datum": 0, "type": "quantitative", "scale": {"domain": [0, 1], "range": [677, 5], "nice": false, "zero": false}, "axis": null},
        "y2": {"datum": 1}
      }
    },
    {
      "data": {"values": [{}]},
      "mark": {"type": "rect", "fill": "white", "stroke": "black", "strokeWidth": 1.5},
      "encoding": {
        "x": {"datum": 0, "type": "quantitative", "scale": {"domain": [0, 30], "range": [649, 1515.5], "nice": false, "zero": false},
          "axis": {"orient": "top", "offset": -55, "zindex": 1, "values": [0, 5, 10, 15, 20, 25, 30], "labels": false, "tickSize": -5, "title": null}},
        "x2": {"datum": 30},
        "y": {"datum": -80, "type": "quantitative", "scale": {"domain": [-80, 0], "range": [596.5, 55], "nice": false, "zero": false},
          "axis": {"orient": "right", "offset": -106.5, "zindex": 1, "values": [0, -10, -20, -30, -40, -50, -60, -70, -80], "labels": false, "tickSize": -5, "title": null}},
        "y2": {"datum": 0}
      }
    },
    {
      "data": {"name": "rgx"},
      "mark": {"type": "rule", "stroke": "#808080", "strokeWidth": 1, "strokeDash": [1, 1]},
      "encoding": {
        "x": {"field": "f", "type": "quantitative", "scale": {"domain": [0, 30], "range": [649, 1515.5], "nice": false, "zero": false}, "axis": null},
        "y": {"datum": -80, "type": "quantitative", "scale": {"domain": [-80, 0], "range": [596.5, 55], "nice": false, "zero": false}, "axis": null},
        "y2": {"datum": 0}
      }
    },
    {
      "data": {"name": "rgy"},
      "mark": {"type": "rule", "stroke": "#808080", "strokeWidth": 1, "strokeDash": [1, 1]},
      "encoding": {
        "x": {"datum": 0, "type": "quantitative", "scale": {"domain": [0, 30], "range": [649, 1515.5], "nice": false, "zero": false}, "axis": null},
        "x2": {"datum": 30},
        "y": {"field": "db", "type": "quantitative", "scale": {"domain": [-80, 0], "range": [596.5, 55], "nice": false, "zero": false}, "axis": null}
      }
    },
    {
      "data": {"name": "rf"},
      "mark": {"type": "line", "clip": true, "strokeCap": "butt", "strokeJoin": "round"},
      "encoding": {
        "x": {"field": "f", "type": "quantitative", "scale": {"domain": [0, 30], "range": [649, 1515.5], "nice": false, "zero": false},
          "axis": {"orient": "bottom", "offset": -268.5, "zindex": 1, "values": [0, 5, 10, 15, 20, 25, 30], "labelExpr": "'' + datum.value", "labelFontSize": 21, "tickSize": -5, "labelPadding": 12, "title": "GHz", "titleFontSize": 20, "titlePadding": 9}},
        "y": {"field": "db", "type": "quantitative", "scale": {"domain": [-80, 0], "range": [596.5, 55], "nice": false, "zero": false},
          "axis": {"orient": "left", "offset": -649, "zindex": 1, "values": [0, -10, -20, -30, -40, -50, -60, -70, -80], "labelExpr": "'' + datum.value", "labelFontSize": 21, "tickSize": -5, "labelPadding": 11, "title": "dB", "titleFontSize": 20, "titlePadding": 12}},
        "color": {"field": "s", "type": "nominal", "sort": null,
          "scale": {"domain": ["IL", "IL fit", "RL11", "RL22", "PSXTK"], "range": ["#0000ff", "#00ff00", "#00ffff", "#ff00ff", "#ff0000"]},
          "legend": {"orient": "none", "legendX": 1299, "legendY": 439, "title": null, "fillColor": "white", "strokeColor": "black", "padding": 11, "symbolType": "stroke", "symbolSize": 4225, "clipHeight": 20, "labelFontSize": 20, "labelFont": "Liberation Sans", "labelColor": "black", "labelOffset": 6, "rowPadding": 10.5}},
        "strokeWidth": {"field": "s", "type": "nominal", "sort": null,
          "scale": {"type": "ordinal", "domain": ["IL", "IL fit", "RL11", "RL22", "PSXTK"], "range": [7, 1, 1, 1, 1]},
          "legend": {"orient": "none", "legendX": 1299, "legendY": 439, "title": null, "fillColor": "white", "strokeColor": "black", "padding": 11, "symbolType": "stroke", "symbolSize": 4225, "clipHeight": 20, "labelFontSize": 20, "labelFont": "Liberation Sans", "labelColor": "black", "labelOffset": 6, "rowPadding": 10.5}}
      }
    },
    {
      "data": {"values": [{}]},
      "mark": {"type": "text", "text": "15dB_Meg6_LowSR_one_brd_chip2chip--caui-4_chip2chip_oneboard_15dB_92_ohm_target_board_MEG6_Thru Losses", "fontSize": 21, "align": "center", "baseline": "alphabetic", "dy": -15},
      "encoding": {
        "x": {"datum": 15, "type": "quantitative", "scale": {"domain": [0, 30], "range": [649, 1515.5], "nice": false, "zero": false}, "axis": null},
        "y": {"datum": 0, "type": "quantitative", "scale": {"domain": [-80, 0], "range": [596.5, 55], "nice": false, "zero": false}, "axis": null}
      }
    }
  ]
}
